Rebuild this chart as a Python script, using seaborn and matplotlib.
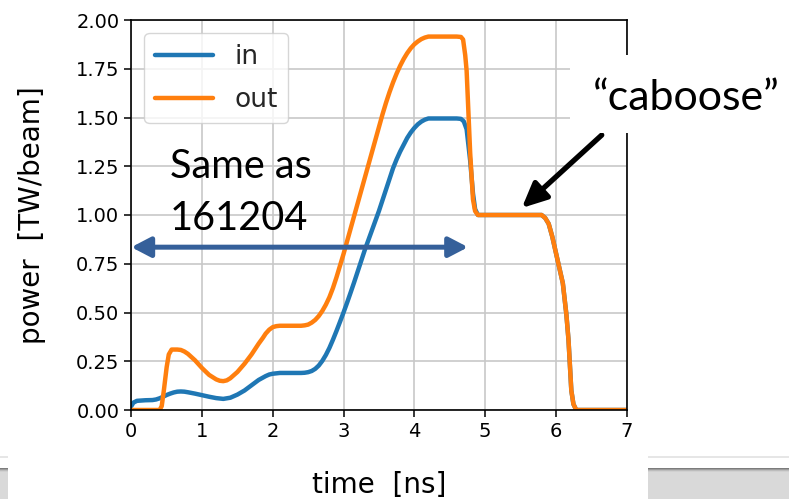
import matplotlib
matplotlib.use("Agg")
import matplotlib.pyplot as plt
import pandas as pd
import seaborn as sns
from matplotlib.patches import Rectangle

# Laser pulse shape: input power per beam
time_in = [0.0, 0.03, 0.08, 0.2, 0.3, 0.35, 0.4, 0.45, 0.5, 0.55, 0.6, 0.65,
           0.7, 0.75, 0.8, 0.9, 1.0, 1.1, 1.2, 1.3, 1.4, 1.5, 1.6, 1.7, 1.8,
           1.9, 1.95, 2.0, 2.1, 2.2, 2.3, 2.4, 2.45, 2.5, 2.55, 2.6, 2.65,
           2.7, 2.75, 2.8, 2.85, 2.9, 2.95, 3.0, 3.05, 3.1, 3.15, 3.2, 3.25,
           3.3, 3.35, 3.4, 3.45, 3.5, 3.55, 3.6, 3.65, 3.7, 3.75, 3.8, 3.85,
           3.9, 3.95, 4.0, 4.05, 4.1, 4.15, 4.2, 4.3, 4.4, 4.5, 4.6, 4.66,
           4.7, 4.74, 4.79, 4.83, 4.86, 4.9, 5.0, 5.2, 5.4, 5.6, 5.8, 5.85,
           5.9, 5.95, 6.0, 6.05, 6.1, 6.15, 6.18, 6.2, 6.22, 6.25, 6.29, 6.5,
           7.0]
power_in = [0.02, 0.038, 0.047, 0.05, 0.051, 0.054, 0.06, 0.068, 0.077, 0.084,
            0.09, 0.094, 0.095, 0.094, 0.091, 0.084, 0.076, 0.068, 0.061,
            0.057, 0.063, 0.079, 0.10, 0.127, 0.154, 0.174, 0.182, 0.186,
            0.19, 0.19, 0.19, 0.19, 0.191, 0.194, 0.2, 0.211, 0.228, 0.252,
            0.282, 0.318, 0.36, 0.405, 0.452, 0.50, 0.55, 0.602, 0.655, 0.71,
            0.765, 0.82, 0.87, 0.92, 0.97, 1.02, 1.075, 1.13, 1.185, 1.24,
            1.285, 1.325, 1.36, 1.395, 1.423, 1.446, 1.465, 1.479, 1.489,
            1.495, 1.495, 1.495, 1.495, 1.495, 1.493, 1.48, 1.44, 1.28, 1.11,
            1.03, 1.0, 1.0, 1.0, 1.0, 1.0, 1.0, 0.985, 0.955, 0.89, 0.81,
            0.73, 0.65, 0.49, 0.36, 0.23, 0.10, 0.03, 0.0, 0.0, 0.0]

# Output power per beam
time_out = [0.0, 0.2, 0.4, 0.43, 0.46, 0.5, 0.53, 0.57, 0.65, 0.7, 0.75, 0.8,
            0.9, 1.0, 1.1, 1.2, 1.25, 1.3, 1.35, 1.4, 1.5, 1.6, 1.7, 1.8,
            1.86, 1.9, 1.95, 2.0, 2.05, 2.1, 2.2, 2.3, 2.4, 2.45, 2.5, 2.55,
            2.6, 2.65, 2.7, 2.75, 2.8, 2.85, 2.9, 2.95, 3.0, 3.05, 3.1, 3.15,
            3.2, 3.25, 3.3, 3.35, 3.4, 3.45, 3.5, 3.55, 3.6, 3.65, 3.7, 3.75,
            3.8, 3.85, 3.9, 3.95, 4.0, 4.05, 4.1, 4.15, 4.2, 4.3, 4.4, 4.5,
            4.6, 4.66, 4.69, 4.72, 4.74, 4.79, 4.83, 4.86, 4.9, 5.0, 5.2, 5.4,
            5.6, 5.8, 5.85, 5.9, 5.95, 6.0, 6.05, 6.1, 6.15, 6.18, 6.2, 6.22,
            6.25, 6.29, 6.5, 7.0]
power_out = [0.0, 0.0, 0.0, 0.02, 0.10, 0.22, 0.285, 0.31, 0.31, 0.308, 0.30,
             0.288, 0.255, 0.215, 0.18, 0.157, 0.15, 0.148, 0.152, 0.163,
             0.195, 0.237, 0.285, 0.34, 0.37, 0.392, 0.412, 0.425, 0.43,
             0.432, 0.432, 0.432, 0.432, 0.434, 0.438, 0.448, 0.462, 0.482,
             0.508, 0.54, 0.578, 0.625, 0.68, 0.74, 0.80, 0.865, 0.93, 0.995,
             1.06, 1.125, 1.19, 1.255, 1.32, 1.385, 1.45, 1.515, 1.575, 1.63,
             1.68, 1.725, 1.765, 1.80, 1.83, 1.855, 1.875, 1.89, 1.902, 1.91,
             1.915, 1.915, 1.915, 1.915, 1.915, 1.913, 1.90, 1.82, 1.74, 1.32,
             1.08, 1.02, 1.0, 1.0, 1.0, 1.0, 1.0, 1.0, 0.985, 0.955, 0.89,
             0.81, 0.73, 0.65, 0.49, 0.36, 0.23, 0.10, 0.03, 0.0, 0.0, 0.0]

series_labels = ["in", "out"]
series_colors = ["#1f77b4", "#ff7f0e"]
x_ticks = [0, 1, 2, 3, 4, 5, 6, 7]
y_ticks = [0.0, 0.25, 0.5, 0.75, 1.0, 1.25, 1.5, 1.75, 2.0]

# "Same as" span and caboose pointer, in data units
same_span = (0.0, 4.76)
same_level = 0.835
caboose_tip = (5.52, 1.036)
caboose_tail = (6.65, 1.41)

df = pd.concat([
    pd.DataFrame({"time": time_in, "power": power_in, "beam": series_labels[0]}),
    pd.DataFrame({"time": time_out, "power": power_out, "beam": series_labels[1]}),
], ignore_index=True)

sns.set_style("ticks")
plt.rcParams["font.family"] = ["DejaVu Sans"]

W, H = 789, 499
fig = plt.figure(figsize=(W / 100, H / 100), dpi=100)
ax = fig.add_axes([131.3 / W, 1 - 410 / H, 495.2 / W, 390 / H])

sns.lineplot(data=df, x="time", y="power", hue="beam", hue_order=series_labels,
             palette=series_colors, linewidth=3.2, estimator=None, sort=False,
             ax=ax)

ax.set_xlim(0, 7)
ax.set_ylim(0, 2)
ax.set_xticks(x_ticks)
ax.set_xticklabels([str(v) for v in x_ticks])
ax.set_yticks(y_ticks)
ax.set_yticklabels([f"{v:.2f}" for v in y_ticks])
ax.grid(True, color="#c8c8c8", linewidth=1.2)
ax.set_axisbelow(True)
for s in ax.spines.values():
    s.set_color("black")
    s.set_linewidth(1.2)
ax.tick_params(labelsize=14, length=5, width=1.1, color="black",
               labelcolor="black")

ax.set_xlabel("time  [ns]", fontsize=20, color="black", va="center")
ax.xaxis.set_label_coords(0.5, -0.192)
ax.set_ylabel("power  [TW/beam]", fontsize=20, color="black", va="center")
ax.yaxis.set_label_coords(-0.2005, 0.5)

handles, labels = ax.get_legend_handles_labels()
ax.legend(handles, labels, loc="upper left", fontsize=19, framealpha=0.8,
          fancybox=True, edgecolor="0.8", handlelength=2.2,
          labelspacing=0.65, borderaxespad=0.5)

# double-headed span arrow
ax.annotate("", xy=(same_span[1], same_level), xytext=(same_span[0], same_level),
            arrowprops=dict(arrowstyle="<|-|>,head_length=1.15,head_width=0.6",
                            lw=3.6, color="#35609a", shrinkA=0, shrinkB=0),
            annotation_clip=False, zorder=5)

# pointer to the caboose
ax.annotate("", xy=caboose_tip, xytext=caboose_tail,
            arrowprops=dict(arrowstyle="-|>,head_length=1.5,head_width=0.7",
                            lw=3.8, color="black", shrinkA=0, shrinkB=0),
            annotation_clip=False, zorder=5)

note_font = ["Lato", "DejaVu Sans"]
fig.text(170 / W, 1 - 230 / H, "Same as\n161204", ha="left", va="baseline",
         fontsize=28.5, family=note_font, color="black", linespacing=1.5,
         zorder=4)

# white panel behind the caboose label
fig.patches.append(Rectangle((570 / W, 1 - 133 / H), (W - 570) / W, 78 / H,
                             transform=fig.transFigure, facecolor="white",
                             edgecolor="none", zorder=2))
fig.text(686.5 / W, 1 - 110 / H, "\u201ccaboose\u201d", ha="center",
         va="baseline", fontsize=31, family=note_font, color="black",
         zorder=4)

# grey strip along the bottom edge
for x0, x1 in [(0, 8), (648, W)]:
    fig.patches.append(Rectangle((x0 / W, 1 - 458 / H), (x1 - x0) / W, 2 / H,
                                 transform=fig.transFigure,
                                 facecolor="#e6e6e6", edgecolor="none",
                                 zorder=1))
    fig.patches.append(Rectangle((x0 / W, 0), (x1 - x0) / W, 31 / H,
                                 transform=fig.transFigure,
                                 facecolor="#d9d9d9", edgecolor="none",
                                 zorder=1))
    for i, c in enumerate(["#7c7c7c", "#9c9c9c", "#bcbcbc", "#d0d0d0"]):
        fig.patches.append(Rectangle((x0 / W, 1 - (469 + i) / H),
                                     (x1 - x0) / W, 1 / H,
                                     transform=fig.transFigure,
                                     facecolor=c, edgecolor="none", zorder=1))

fig.savefig("out.png", dpi=100)
